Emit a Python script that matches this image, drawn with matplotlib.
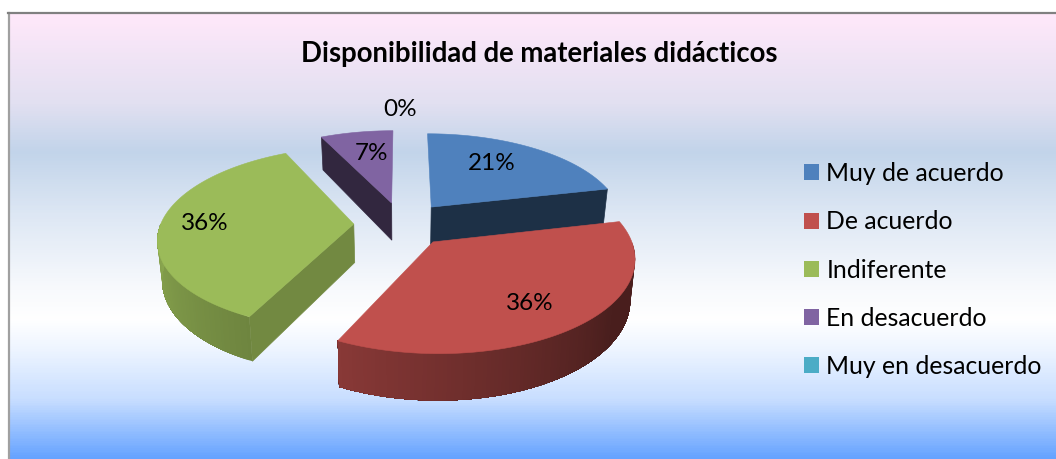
import numpy as np
from matplotlib import pyplot as plt
from matplotlib.colors import LinearSegmentedColormap, to_rgb
from matplotlib.patches import Patch

# chart data
categories = ['Muy de acuerdo', 'De acuerdo', 'Indiferente', 'En desacuerdo', 'Muy en desacuerdo']
counts = [6, 10, 10, 2, 0]
colors = ['#4F81BD', '#C0504D', '#9BBB59', '#8064A2', '#4BACC6']
title = 'Disponibilidad de materiales didácticos'

# pixel position of the percent labels
label_x = [492, 530, 205, 372, 400]
label_y = [163, 304, 224, 154, 109]

# how dark the flat cut side of each slice is
cut_shade = [0.37, 0.4, 0.735, 0.39, 0.4]

# perspective of the pie
x0, y0 = 402, 224
rx, ry = 193, 89
persp = 0.15
explode = 0.25
depth = 38.5
lean = 0.98


def project(X, Y, bottom=False):
    w = 1 + persp * Y
    u = rx * X / w
    v = y0 - ry * Y / w
    if bottom:
        return x0 + u * lean, v + depth / w
    return x0 + u, v


def wall_shade(theta):
    return np.interp(theta, [125, 205, 270], [0.38, 0.71, 0.9])


plt.rcParams['font.family'] = ['Lato', 'DejaVu Sans']
fig = plt.figure(figsize=(10.56, 4.59), dpi=100)
ax = fig.add_axes([0, 0, 1, 1])

# background
stops = [(0, '#FFE8FA'), (0.2, '#E2E0F1'), (0.31, '#C2D4EA'), (0.45, '#DDE7F4'),
         (0.62, '#F8FAFD'), (0.69, '#FFFFFF'), (0.755, '#EEF5FF'), (0.868, '#C8DEFF'), (1, '#66A3FF')]
cmap = LinearSegmentedColormap.from_list('bg', stops)
ax.imshow(np.linspace(0, 1, 446).reshape(-1, 1), cmap=cmap, extent=[9, 1056, 459, 13],
          aspect='auto', zorder=0)
ax.set_xlim(0, 1056)
ax.set_ylim(459, 0)
ax.axis('off')
ax.plot([9, 9], [13, 459], color='#A0A0A0', lw=1.6, zorder=1)
ax.plot([8, 1056], [13, 13], color='#808080', lw=1.6, zorder=1)

# slices, back to front
total = sum(counts)
edges = np.cumsum([0] + counts) / total * 360
z = 2
for i in [0, 3, 2, 1]:
    start, end = edges[i], edges[i + 1]
    mid = np.radians((start + end) / 2)
    ex, ey = explode * np.sin(mid), explode * np.cos(mid)
    base = np.array(to_rgb(colors[i]))

    # flat cut sides that face the viewer
    for ang, sign in [(start, -1), (end, 1)]:
        a = np.radians(ang)
        if sign * np.sin(a) > 0:
            px = np.array([ex, ex + np.sin(a)])
            py = np.array([ey, ey + np.cos(a)])
            tx, ty = project(px, py)
            bx, by = project(px, py, True)
            ax.fill(np.r_[tx, bx[::-1]], np.r_[ty, by[::-1]], color=base * cut_shade[i],
                    lw=0.5, zorder=z)
    z += 1

    # outer wall, each strip runs on to the end so no seams show
    lo, hi = max(start, 90), min(end, 270)
    if hi > lo:
        for a0 in np.linspace(lo, hi, int(hi - lo) + 2)[:-1]:
            t = np.radians(np.linspace(a0, hi, 60))
            tx, ty = project(ex + np.sin(t), ey + np.cos(t))
            bx, by = project(ex + np.sin(t), ey + np.cos(t), True)
            ax.fill(np.r_[tx, bx[::-1]], np.r_[ty, by[::-1]],
                    color=base * wall_shade(a0), lw=0, zorder=z)
    z += 1

    # top
    t = np.radians(np.linspace(start, end, 120))
    tx, ty = project(np.r_[ex, ex + np.sin(t)], np.r_[ey, ey + np.cos(t)])
    ax.fill(tx, ty, color=colors[i], lw=0.4, zorder=z)
    z += 1

# percent labels
for v, lx, ly in zip(counts, label_x, label_y):
    ax.text(lx, ly, f'{v / total:.0%}', fontsize=17.5, ha='center', va='center', color='black', zorder=50)

ax.text(539, 54, title, fontsize=19.8, fontweight='bold', ha='center', va='center', color='black', zorder=50)

handles = [Patch(facecolor=c, edgecolor='none') for c in colors]
ax.legend(handles, categories, loc='center left', bbox_to_anchor=(797 / 1056, 1 - 270 / 459),
          frameon=False, fontsize=17.8, handlelength=0.61, handleheight=0.61, handletextpad=0.28,
          labelspacing=1.02, borderpad=0, borderaxespad=0.3)

fig.savefig('out.png', dpi=100)
